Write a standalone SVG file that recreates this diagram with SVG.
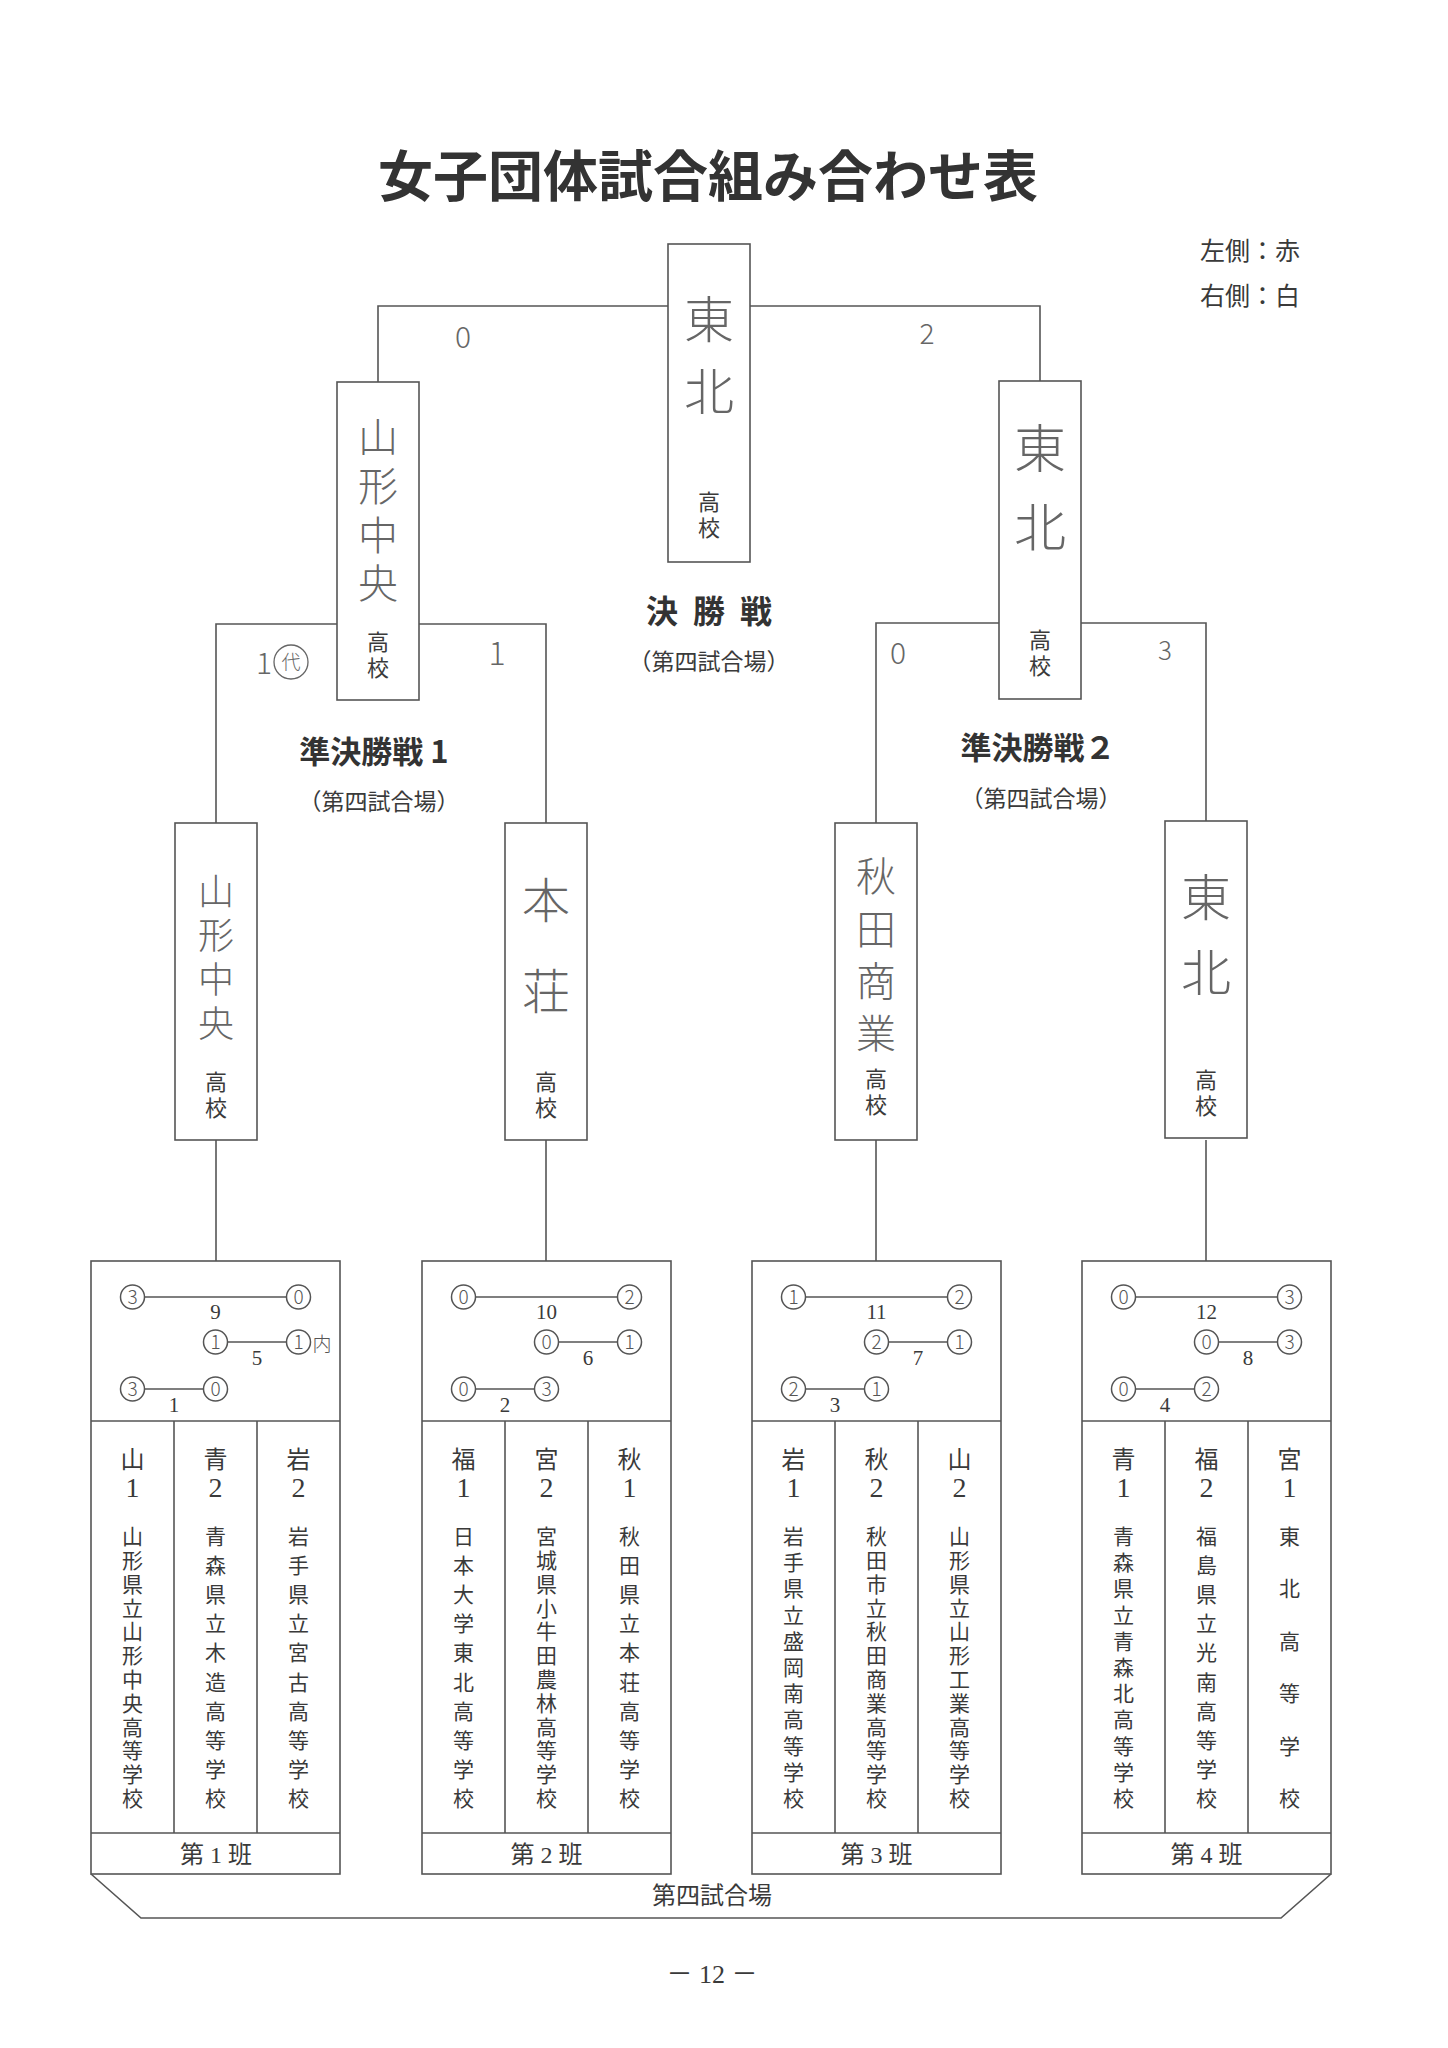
<svg xmlns="http://www.w3.org/2000/svg" width="1448" height="2048" viewBox="0 0 1448 2048">
<style>
.ln{stroke:#555;stroke-width:1.6;fill:none}
.box{fill:#fff;stroke:#555;stroke-width:1.6}
.cir{fill:#fff;stroke:#555;stroke-width:1.5}
.pr{font-family:"Liberation Serif","Noto Sans CJK JP",serif;fill:#3a3a3a;text-anchor:middle}
.jp{font-family:"Noto Sans CJK JP",sans-serif;fill:#3a3a3a;text-anchor:middle;font-size:24px}
.ks{font-family:"Noto Sans CJK JP",sans-serif;fill:#3a3a3a;text-anchor:middle;font-size:22px}
.nm{font-family:"Noto Sans CJK JP",sans-serif;fill:#3a3a3a;text-anchor:middle;font-size:21px}
.hw{font-family:"Noto Sans CJK JP",sans-serif;font-weight:300;fill:#666;text-anchor:middle}
.bd{font-family:"Noto Sans CJK JP",sans-serif;font-weight:700;fill:#333;text-anchor:middle}
.sc{font-family:"Noto Sans CJK JP",sans-serif;font-weight:300;fill:#555;text-anchor:middle;font-size:19px}
.no{font-family:"Liberation Serif",serif;fill:#3a3a3a;text-anchor:middle;font-size:21px}
.cd{font-family:"Liberation Serif",serif;fill:#3a3a3a;text-anchor:middle;font-size:28px}
</style>
<rect width="1448" height="2048" fill="#fff"/>

<text class="bd" x="708" y="196" font-size="55">女子団体試合組み合わせ表</text>
<text class="jp" x="1250" y="260" style="font-size:25px">左側：赤</text>
<text class="jp" x="1250" y="305" style="font-size:25px">右側：白</text>

<g id="connectors">
  <polyline class="ln" points="378,382 378,306 1040,306 1040,381"/>
  <polyline class="ln" points="216,823 216,624 546,624 546,823"/>
  <polyline class="ln" points="876,823 876,623 1206,623 1206,823"/>
  <line class="ln" x1="216" y1="1140" x2="216" y2="1261"/>
  <line class="ln" x1="546" y1="1140" x2="546" y2="1261"/>
  <line class="ln" x1="876" y1="1140" x2="876" y2="1261"/>
  <line class="ln" x1="1206" y1="1140" x2="1206" y2="1261"/>
</g>

<g id="final-labels">
  <text class="bd" x="662 709 756" y="623" font-size="32">決勝戦</text>
  <text class="jp" x="709" y="670" style="font-size:23px">（第四試合場）</text>
  <text class="hw" x="463" y="348" font-size="30">0</text>
  <text class="hw" x="927" y="344" font-size="28">2</text>
</g>

<g id="sf1-labels">
  <text class="bd" x="374" y="763" font-size="31">準決勝戦 1</text>
  <text class="jp" x="379" y="810" style="font-size:23px">（第四試合場）</text>
  <text class="hw" x="264" y="674" font-size="30">1</text>
  <circle cx="291" cy="662" r="17" fill="none" stroke="#666" stroke-width="1.3"/>
  <text class="hw" x="291" y="669" font-size="19">代</text>
  <text class="hw" x="497" y="665" font-size="32">1</text>
</g>

<g id="sf2-labels">
  <text class="bd" x="1038" y="759" font-size="31">準決勝戦２</text>
  <text class="jp" x="1041" y="807" style="font-size:23px">（第四試合場）</text>
  <text class="hw" x="898" y="664" font-size="30">0</text>
  <text class="hw" x="1165" y="660" font-size="26">3</text>
</g>

<g id="final-winner">
  <rect class="box" x="668" y="244" width="82" height="318"/>
  <text class="hw" x="709 709" y="338 410" font-size="50">東北</text>
  <text class="ks" x="709 709" y="510 536">高校</text>
</g>

<g id="sf1-winner">
  <rect class="box" x="337" y="382" width="82" height="318"/>
  <text class="hw" x="378 378 378 378" y="452 501 550 598" font-size="40">山形中央</text>
  <text class="ks" x="378 378" y="650 676">高校</text>
</g>

<g id="sf2-winner">
  <rect class="box" x="999" y="381" width="82" height="318"/>
  <text class="hw" x="1040 1040" y="468 547" font-size="52">東北</text>
  <text class="ks" x="1040 1040" y="648 674">高校</text>
</g>

<g id="qf-yamagata-chuo">
  <rect class="box" x="175" y="823" width="82" height="317"/>
  <text class="hw" x="216 216 216 216" y="905 949 993 1037" font-size="36">山形中央</text>
  <text class="ks" x="216 216" y="1090 1116">高校</text>
</g>

<g id="qf-honjo">
  <rect class="box" x="505" y="823" width="82" height="317"/>
  <text class="hw" x="546 546" y="918 1009" font-size="48">本荘</text>
  <text class="ks" x="546 546" y="1090 1116">高校</text>
</g>

<g id="qf-akita-shogyo">
  <rect class="box" x="835" y="823" width="82" height="317"/>
  <text class="hw" x="876 876 876 876" y="891 944 996 1048" font-size="40">秋田商業</text>
  <text class="ks" x="876 876" y="1087 1113">高校</text>
</g>

<g id="qf-tohoku">
  <rect class="box" x="1165" y="821" width="82" height="317"/>
  <text class="hw" x="1206 1206" y="916 991" font-size="50">東北</text>
  <text class="ks" x="1206 1206" y="1088 1114">高校</text>
</g>

<g id="venue">
  <polyline class="ln" points="91,1874 141,1918 1281,1918 1331,1874"/>
  <text class="jp" x="712" y="1904">第四試合場</text>
</g>

<g id="group1">
  <rect class="box" x="91" y="1261" width="249" height="613"/>
  <line class="ln" x1="91" y1="1421" x2="340" y2="1421"/>
  <line class="ln" x1="91" y1="1833" x2="340" y2="1833"/>
  <line class="ln" x1="174" y1="1421" x2="174" y2="1833"/>
  <line class="ln" x1="257" y1="1421" x2="257" y2="1833"/>
  <line class="ln" x1="144.5" y1="1297" x2="286.5" y2="1297"/>
  <line class="ln" x1="227.5" y1="1342" x2="286.5" y2="1342"/>
  <line class="ln" x1="144.5" y1="1389" x2="203.5" y2="1389"/>
  <circle class="cir" cx="132.5" cy="1297" r="12"/><circle class="cir" cx="298.5" cy="1297" r="12"/>
  <circle class="cir" cx="215.5" cy="1342" r="12"/><circle class="cir" cx="298.5" cy="1342" r="12"/>
  <circle class="cir" cx="132.5" cy="1389" r="12"/><circle class="cir" cx="215.5" cy="1389" r="12"/>
  <text class="sc" x="132.5" y="1304">3</text><text class="sc" x="298.5" y="1304">0</text>
  <text class="sc" x="215.5" y="1349">1</text><text class="sc" x="298.5" y="1349">1</text>
  <text class="sc" x="322" y="1351">内</text>
  <text class="sc" x="132.5" y="1396">3</text><text class="sc" x="215.5" y="1396">0</text>
  <text class="no" x="215.5" y="1319">9</text>
  <text class="no" x="257" y="1365">5</text>
  <text class="no" x="174" y="1412">1</text>
  <text class="jp" x="132.5" y="1468">山</text><text class="cd" x="132.5" y="1497">1</text>
  <text class="jp" x="215.5" y="1468">青</text><text class="cd" x="215.5" y="1497">2</text>
  <text class="jp" x="298.5" y="1468">岩</text><text class="cd" x="298.5" y="1497">2</text>
  <text class="nm" x="132.5 132.5 132.5 132.5 132.5 132.5 132.5 132.5 132.5 132.5 132.5 132.5" y="1544 1567.8 1591.6 1615.5 1639.3 1663.1 1686.9 1710.7 1734.5 1758.4 1782.2 1806">山形県立山形中央高等学校</text>
  <text class="nm" x="215.5 215.5 215.5 215.5 215.5 215.5 215.5 215.5 215.5 215.5" y="1544 1573.1 1602.2 1631.3 1660.4 1689.6 1718.7 1747.8 1776.9 1806">青森県立木造高等学校</text>
  <text class="nm" x="298.5 298.5 298.5 298.5 298.5 298.5 298.5 298.5 298.5 298.5" y="1544 1573.1 1602.2 1631.3 1660.4 1689.6 1718.7 1747.8 1776.9 1806">岩手県立宮古高等学校</text>
  <text class="pr" x="216" y="1863" font-size="24">第 1 班</text>
</g>

<g id="group2">
  <rect class="box" x="422" y="1261" width="249" height="613"/>
  <line class="ln" x1="422" y1="1421" x2="671" y2="1421"/>
  <line class="ln" x1="422" y1="1833" x2="671" y2="1833"/>
  <line class="ln" x1="505" y1="1421" x2="505" y2="1833"/>
  <line class="ln" x1="588" y1="1421" x2="588" y2="1833"/>
  <line class="ln" x1="475.5" y1="1297" x2="617.5" y2="1297"/>
  <line class="ln" x1="558.5" y1="1342" x2="617.5" y2="1342"/>
  <line class="ln" x1="475.5" y1="1389" x2="534.5" y2="1389"/>
  <circle class="cir" cx="463.5" cy="1297" r="12"/><circle class="cir" cx="629.5" cy="1297" r="12"/>
  <circle class="cir" cx="546.5" cy="1342" r="12"/><circle class="cir" cx="629.5" cy="1342" r="12"/>
  <circle class="cir" cx="463.5" cy="1389" r="12"/><circle class="cir" cx="546.5" cy="1389" r="12"/>
  <text class="sc" x="463.5" y="1304">0</text><text class="sc" x="629.5" y="1304">2</text>
  <text class="sc" x="546.5" y="1349">0</text><text class="sc" x="629.5" y="1349">1</text>
  <text class="sc" x="463.5" y="1396">0</text><text class="sc" x="546.5" y="1396">3</text>
  <text class="no" x="546.5" y="1319">10</text>
  <text class="no" x="588" y="1365">6</text>
  <text class="no" x="505" y="1412">2</text>
  <text class="jp" x="463.5" y="1468">福</text><text class="cd" x="463.5" y="1497">1</text>
  <text class="jp" x="546.5" y="1468">宮</text><text class="cd" x="546.5" y="1497">2</text>
  <text class="jp" x="629.5" y="1468">秋</text><text class="cd" x="629.5" y="1497">1</text>
  <text class="nm" x="463.5 463.5 463.5 463.5 463.5 463.5 463.5 463.5 463.5 463.5" y="1544 1573.1 1602.2 1631.3 1660.4 1689.6 1718.7 1747.8 1776.9 1806">日本大学東北高等学校</text>
  <text class="nm" x="546.5 546.5 546.5 546.5 546.5 546.5 546.5 546.5 546.5 546.5 546.5 546.5" y="1544 1567.8 1591.6 1615.5 1639.3 1663.1 1686.9 1710.7 1734.5 1758.4 1782.2 1806">宮城県小牛田農林高等学校</text>
  <text class="nm" x="629.5 629.5 629.5 629.5 629.5 629.5 629.5 629.5 629.5 629.5" y="1544 1573.1 1602.2 1631.3 1660.4 1689.6 1718.7 1747.8 1776.9 1806">秋田県立本荘高等学校</text>
  <text class="pr" x="546.5" y="1863" font-size="24">第 2 班</text>
</g>

<g id="group3">
  <rect class="box" x="752" y="1261" width="249" height="613"/>
  <line class="ln" x1="752" y1="1421" x2="1001" y2="1421"/>
  <line class="ln" x1="752" y1="1833" x2="1001" y2="1833"/>
  <line class="ln" x1="835" y1="1421" x2="835" y2="1833"/>
  <line class="ln" x1="918" y1="1421" x2="918" y2="1833"/>
  <line class="ln" x1="805.5" y1="1297" x2="947.5" y2="1297"/>
  <line class="ln" x1="888.5" y1="1342" x2="947.5" y2="1342"/>
  <line class="ln" x1="805.5" y1="1389" x2="864.5" y2="1389"/>
  <circle class="cir" cx="793.5" cy="1297" r="12"/><circle class="cir" cx="959.5" cy="1297" r="12"/>
  <circle class="cir" cx="876.5" cy="1342" r="12"/><circle class="cir" cx="959.5" cy="1342" r="12"/>
  <circle class="cir" cx="793.5" cy="1389" r="12"/><circle class="cir" cx="876.5" cy="1389" r="12"/>
  <text class="sc" x="793.5" y="1304">1</text><text class="sc" x="959.5" y="1304">2</text>
  <text class="sc" x="876.5" y="1349">2</text><text class="sc" x="959.5" y="1349">1</text>
  <text class="sc" x="793.5" y="1396">2</text><text class="sc" x="876.5" y="1396">1</text>
  <text class="no" x="876.5" y="1319">11</text>
  <text class="no" x="918" y="1365">7</text>
  <text class="no" x="835" y="1412">3</text>
  <text class="jp" x="793.5" y="1468">岩</text><text class="cd" x="793.5" y="1497">1</text>
  <text class="jp" x="876.5" y="1468">秋</text><text class="cd" x="876.5" y="1497">2</text>
  <text class="jp" x="959.5" y="1468">山</text><text class="cd" x="959.5" y="1497">2</text>
  <text class="nm" x="793.5 793.5 793.5 793.5 793.5 793.5 793.5 793.5 793.5 793.5 793.5" y="1544 1570.2 1596.4 1622.6 1648.8 1675 1701.2 1727.4 1753.6 1779.8 1806">岩手県立盛岡南高等学校</text>
  <text class="nm" x="876.5 876.5 876.5 876.5 876.5 876.5 876.5 876.5 876.5 876.5 876.5 876.5" y="1544 1567.8 1591.6 1615.5 1639.3 1663.1 1686.9 1710.7 1734.5 1758.4 1782.2 1806">秋田市立秋田商業高等学校</text>
  <text class="nm" x="959.5 959.5 959.5 959.5 959.5 959.5 959.5 959.5 959.5 959.5 959.5 959.5" y="1544 1567.8 1591.6 1615.5 1639.3 1663.1 1686.9 1710.7 1734.5 1758.4 1782.2 1806">山形県立山形工業高等学校</text>
  <text class="pr" x="876.5" y="1863" font-size="24">第 3 班</text>
</g>

<g id="group4">
  <rect class="box" x="1082" y="1261" width="249" height="613"/>
  <line class="ln" x1="1082" y1="1421" x2="1331" y2="1421"/>
  <line class="ln" x1="1082" y1="1833" x2="1331" y2="1833"/>
  <line class="ln" x1="1165" y1="1421" x2="1165" y2="1833"/>
  <line class="ln" x1="1248" y1="1421" x2="1248" y2="1833"/>
  <line class="ln" x1="1135.5" y1="1297" x2="1277.5" y2="1297"/>
  <line class="ln" x1="1218.5" y1="1342" x2="1277.5" y2="1342"/>
  <line class="ln" x1="1135.5" y1="1389" x2="1194.5" y2="1389"/>
  <circle class="cir" cx="1123.5" cy="1297" r="12"/><circle class="cir" cx="1289.5" cy="1297" r="12"/>
  <circle class="cir" cx="1206.5" cy="1342" r="12"/><circle class="cir" cx="1289.5" cy="1342" r="12"/>
  <circle class="cir" cx="1123.5" cy="1389" r="12"/><circle class="cir" cx="1206.5" cy="1389" r="12"/>
  <text class="sc" x="1123.5" y="1304">0</text><text class="sc" x="1289.5" y="1304">3</text>
  <text class="sc" x="1206.5" y="1349">0</text><text class="sc" x="1289.5" y="1349">3</text>
  <text class="sc" x="1123.5" y="1396">0</text><text class="sc" x="1206.5" y="1396">2</text>
  <text class="no" x="1206.5" y="1319">12</text>
  <text class="no" x="1248" y="1365">8</text>
  <text class="no" x="1165" y="1412">4</text>
  <text class="jp" x="1123.5" y="1468">青</text><text class="cd" x="1123.5" y="1497">1</text>
  <text class="jp" x="1206.5" y="1468">福</text><text class="cd" x="1206.5" y="1497">2</text>
  <text class="jp" x="1289.5" y="1468">宮</text><text class="cd" x="1289.5" y="1497">1</text>
  <text class="nm" x="1123.5 1123.5 1123.5 1123.5 1123.5 1123.5 1123.5 1123.5 1123.5 1123.5 1123.5" y="1544 1570.2 1596.4 1622.6 1648.8 1675 1701.2 1727.4 1753.6 1779.8 1806">青森県立青森北高等学校</text>
  <text class="nm" x="1206.5 1206.5 1206.5 1206.5 1206.5 1206.5 1206.5 1206.5 1206.5 1206.5" y="1544 1573.1 1602.2 1631.3 1660.4 1689.6 1718.7 1747.8 1776.9 1806">福島県立光南高等学校</text>
  <text class="nm" x="1289.5 1289.5 1289.5 1289.5 1289.5 1289.5" y="1544 1596.4 1648.8 1701.2 1753.6 1806">東北高等学校</text>
  <text class="pr" x="1206.5" y="1863" font-size="24">第 4 班</text>
</g>

<text class="pr" x="712" y="1983" font-size="26">－ 12 －</text>
</svg>
